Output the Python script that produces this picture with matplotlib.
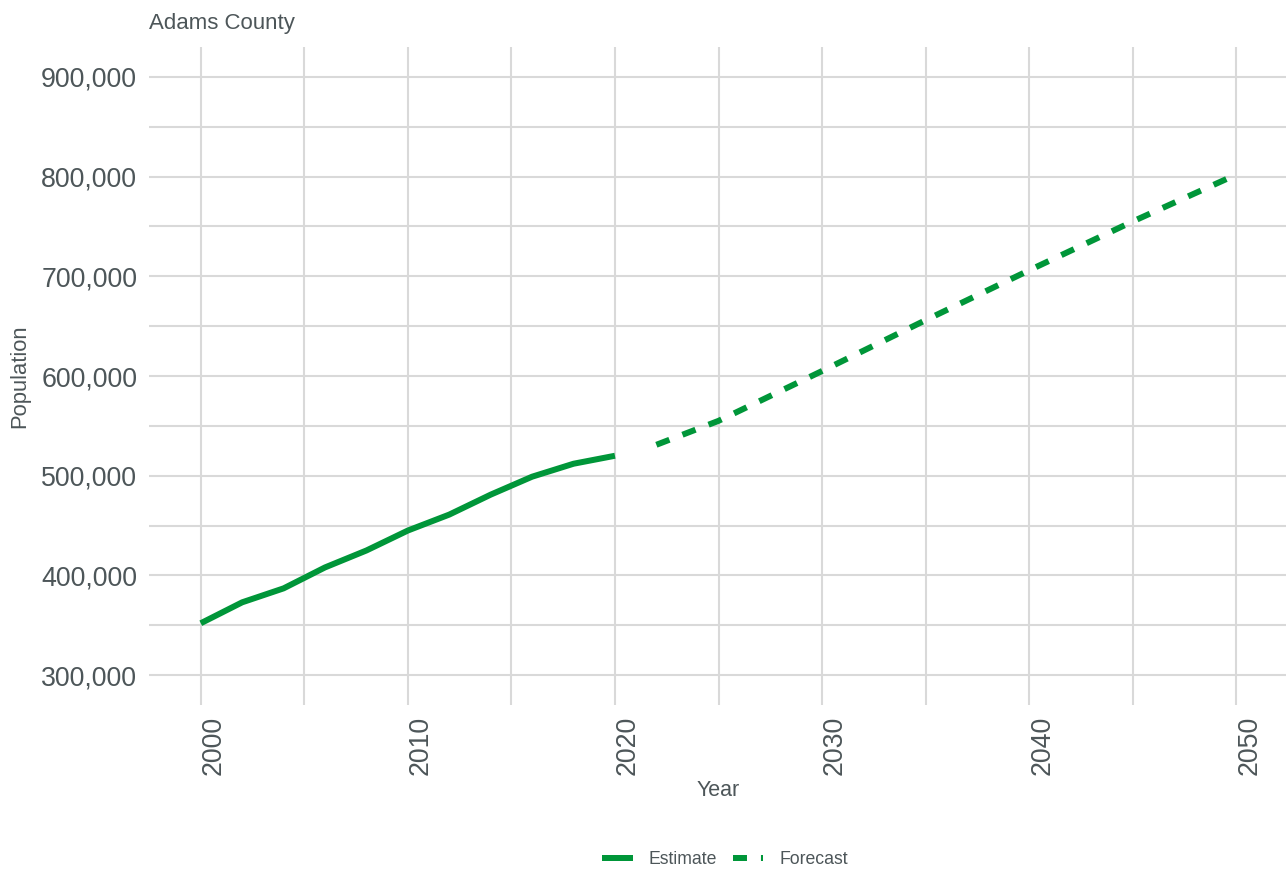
import matplotlib
matplotlib.use("Agg")
import matplotlib.pyplot as plt
from matplotlib.ticker import FuncFormatter, MultipleLocator
from matplotlib.lines import Line2D

# Population series for Adams County
estimate_years = [2000, 2002, 2004, 2006, 2008, 2010, 2012, 2014, 2016, 2018, 2020]
estimate_pop = [352000, 373000, 387000, 408000, 425000, 445000, 461000, 481000, 499000, 512000, 520000]

forecast_years = [2022, 2025, 2030, 2035, 2040, 2045, 2050]
forecast_pop = [531000, 555000, 605000, 656000, 706000, 755000, 802000]

x_ticks = [2000, 2010, 2020, 2030, 2040, 2050]
y_ticks = [300000, 400000, 500000, 600000, 700000, 800000, 900000]

GREEN = "#009639"
TEXT = "#4d5659"
GRID = "#d9d9d9"
FONT = ["Liberation Sans", "DejaVu Sans"]

plt.rcParams["font.family"] = FONT

W, H = 1286, 869
fig = plt.figure(figsize=(W / 100, H / 100), dpi=100)
fig.patch.set_facecolor("white")

left, right, top, bottom = 149, 1288, 47, 705
ax = fig.add_axes([left / W, 1 - bottom / H, (right - left) / W, (bottom - top) / H])
ax.set_facecolor("white")

lw = 4.32
dash = (0, (2.33, 2.33))
ax.plot(estimate_years, estimate_pop, color=GREEN, lw=lw, solid_capstyle="butt",
        solid_joinstyle="round", label="Estimate", zorder=3)
ax.plot(forecast_years, forecast_pop, color=GREEN, lw=lw, linestyle=dash,
        dash_capstyle="butt", label="Forecast", zorder=3)

ax.set_xlim(1997.5, 2052.5)
ax.set_ylim(270000, 930000)

ax.set_xticks(x_ticks)
ax.xaxis.set_minor_locator(MultipleLocator(5))
ax.set_yticks(y_ticks)
ax.yaxis.set_minor_locator(MultipleLocator(50000))
ax.yaxis.set_major_formatter(FuncFormatter(lambda v, p: f"{int(v):,}"))

ax.grid(True, which="both", color=GRID, linewidth=1.5)
ax.set_axisbelow(True)
for s in ax.spines.values():
    s.set_visible(False)

ax.tick_params(axis="both", which="both", length=0, colors=TEXT, labelsize=19.3)
ax.tick_params(axis="y", pad=8.5)
ax.tick_params(axis="x", pad=7.5)
for lbl in ax.get_xticklabels():
    lbl.set_rotation(90)
    lbl.set_ha("left")
    lbl.set_va("top")

fig.text(20 / W, 1 - 376 / H, "Population", rotation=90, ha="center", va="center",
         fontsize=15.8, color=TEXT)
fig.text(718 / W, 1 - 791 / H, "Year", ha="center", va="center", fontsize=15.5, color=TEXT)
fig.text(149 / W, 1 - 23 / H, "Adams County", ha="left", va="center", fontsize=16, color=TEXT)

handles = [
    Line2D([], [], color=GREEN, lw=lw, solid_capstyle="butt"),
    Line2D([], [], color=GREEN, lw=lw, linestyle=dash, dash_capstyle="butt"),
]
fig.legend(handles, ["Estimate", "Forecast"], loc="center", ncol=2,
           bbox_to_anchor=(725 / W, 1 - 860 / H), frameon=False, fontsize=12.7,
           labelcolor=TEXT, handlelength=1.72, handletextpad=0.9, columnspacing=0.9)

fig.savefig("out.png", dpi=100, facecolor="white")
